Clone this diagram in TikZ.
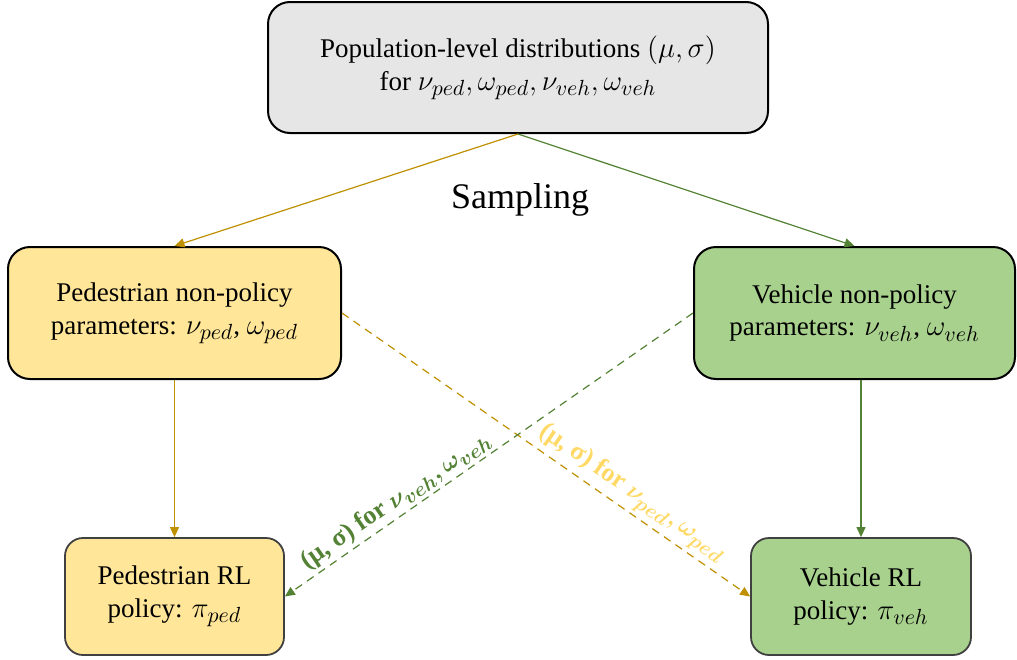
\documentclass[tikz,border=0pt]{standalone}
\usepackage{fontspec}
\setmainfont{Liberation Serif}
\usetikzlibrary{arrows.meta}
\DeclareMathSizes{13.5}{13.5}{10.5}{8}
\DeclareMathSizes{13}{13}{10}{8}
\definecolor{goldline}{HTML}{BF9000}
\definecolor{greenline}{HTML}{548235}
\definecolor{goldtext}{HTML}{FFD966}
\definecolor{yellowfill}{HTML}{FFE699}
\definecolor{greenfill}{HTML}{A9D18E}
\definecolor{grayfill}{HTML}{E7E6E6}
\definecolor{rlborder}{HTML}{404040}
\begin{document}
\begin{tikzpicture}[x=0.5pt,y=-0.5pt,
  box/.style={draw=black, line width=1pt, rounded corners=11pt, align=center, inner sep=0pt,
    font=\fontsize{13.5}{16.5}\selectfont},
  rlbox/.style={box, draw=rlborder, line width=0.9pt, rounded corners=9pt},
  tip/.style={-{Triangle[length=5pt,width=4.5pt]}},
  goldarrow/.style={tip, draw=goldline, line width=0.6pt},
  greenarrow/.style={tip, draw=greenline, line width=0.6pt},
  lbl/.style={font=\fontsize{13}{15}\selectfont\bfseries\boldmath, inner sep=1.5pt, anchor=south}
]
\useasboundingbox (0,0) rectangle (1017,659);

\node[box, fill=grayfill, minimum width=250pt, minimum height=65.5pt] (top) at (518,67.5)
  {Population-level distributions $(\mu,\sigma)$\\ for $\nu_{ped}, \omega_{ped}, \nu_{veh}, \omega_{veh}$};
\node[box, fill=yellowfill, minimum width=166.5pt, minimum height=66pt] (ped) at (174.5,313)
  {Pedestrian non-policy\\ parameters: $\nu_{ped}$, $\omega_{ped}$};
\node[box, fill=greenfill, minimum width=160.5pt, minimum height=66pt] (veh) at (854.5,313)
  {Vehicle non-policy\\ parameters: $\nu_{veh}$, $\omega_{veh}$};
\node[rlbox, fill=yellowfill, minimum width=109.5pt, minimum height=58.5pt] (pedrl) at (174.5,596.5)
  {Pedestrian RL\\ policy: $\pi_{ped}$};
\node[rlbox, fill=greenfill, minimum width=110pt, minimum height=58.5pt] (vehrl) at (861,596.5)
  {Vehicle RL\\ policy: $\pi_{veh}$};

\node[font=\fontsize{18}{21}\selectfont] (samp) at (520,200) {Sampling};

\draw[goldarrow] (top.south) -- (ped.north);
\draw[greenarrow] (top.south) -- (veh.north);
\draw[goldarrow] (ped.south) -- (pedrl.north);
\draw[greenarrow] (veh.south -| vehrl.north) -- (vehrl.north);

\draw[goldarrow, dashed, dash pattern=on 4pt off 3pt] (ped.east) -- (vehrl.west)
  node[lbl, pos=0.687, rotate=-34.7, text=goldtext] (lp) {(μ, σ) for $\nu_{ped}, \omega_{ped}$};
\draw[greenarrow, dashed, dash pattern=on 4pt off 3pt] (veh.west) -- (pedrl.east)
  node[lbl, pos=0.706, rotate=34.7, text=greenline] (lv) {(μ, σ) for $\nu_{veh}, \omega_{veh}$};
\end{tikzpicture}
\end{document}
